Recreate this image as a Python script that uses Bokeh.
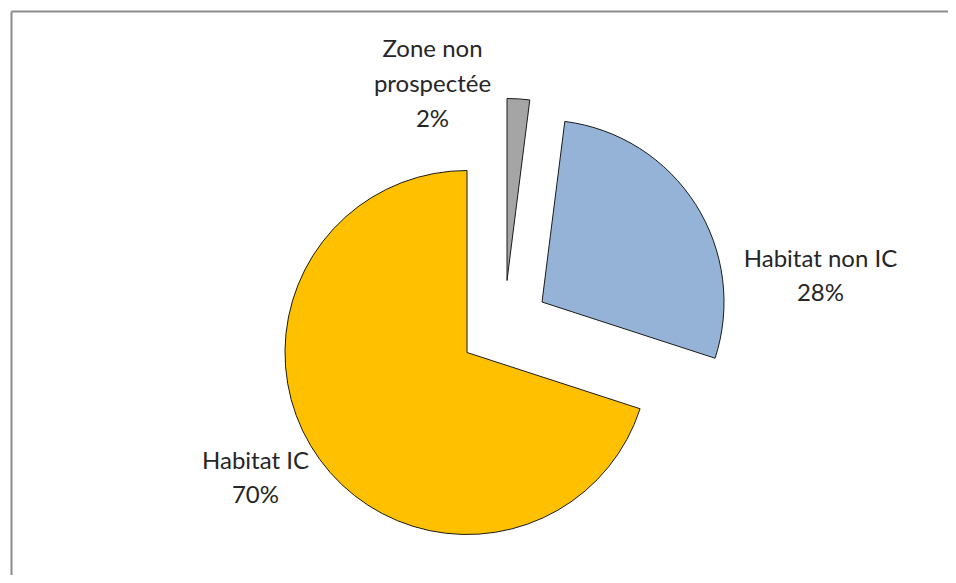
import math
from bokeh.plotting import figure
from bokeh.models import Range1d, ColumnDataSource
from bokeh.core.properties import value
from bokeh.embed import file_html
from bokeh.resources import INLINE

# ---- data (clockwise from 12 o'clock, as in the original) ----
categories = ["Zone non prospectée", "Habitat non IC", "Habitat IC"]
values = [2, 28, 70]
label_texts = ["Zone non\nprospectée\n2%", "Habitat non IC\n28%", "Habitat IC\n70%"]

# ---- style ----
colors = ["#A5A5A5", "#95B3D7", "#FFC000"]
W, H = 948, 575
center = (466.5, 223.0)      # pie centre in plot units (1 unit = 1 px)
radius = 182
explode = [(40, 72), (75, 50.5), (0, 0)]          # per-slice offsets
label_pos = [(432, 493), (820, 301), (255, 99)]   # label block centres

total = float(sum(values))
starts, ends, xs, ys = [], [], [], []
cum = 0.0
for v, (dx, dy) in zip(values, explode):
    a_hi = math.radians(90 - cum / total * 360)
    cum += v
    a_lo = math.radians(90 - cum / total * 360)
    starts.append(a_lo)
    ends.append(a_hi)
    xs.append(center[0] + dx)
    ys.append(center[1] + dy)

src = ColumnDataSource(dict(x=xs, y=ys, start=starts, end=ends, color=colors,
                            cat=categories))

p = figure(width=W, height=H, output_backend="svg", toolbar_location=None,
           x_range=Range1d(0, W), y_range=Range1d(0, H),
           x_axis_type=None, y_axis_type=None, min_border=0)
p.grid.visible = False
p.outline_line_color = None
p.background_fill_color = "white"
p.border_fill_color = "white"

p.wedge(x="x", y="y", radius=radius, start_angle="start", end_angle="end",
        direction="anticlock", fill_color="color", line_color="#1a1a1a",
        line_width=1, source=src)

lsrc = ColumnDataSource(dict(x=[l[0] for l in label_pos], y=[l[1] for l in label_pos],
                             text=label_texts))
p.text(x="x", y="y", text="text", source=lsrc, text_align="center",
       text_baseline="middle", text_font=value("Lato"), text_font_size="24px",
       text_line_height=1.2, text_color="#262626")

# chart-area border (top and left visible; right/bottom run off the picture)
b = 11
p.segment(x0=[b, b], y0=[H - b, H - b], x1=[b, W + 20], y1=[-20, H - b],
          line_color="#8C8C8C", line_width=2)

open("out.html", "w").write(file_html(p, INLINE))
